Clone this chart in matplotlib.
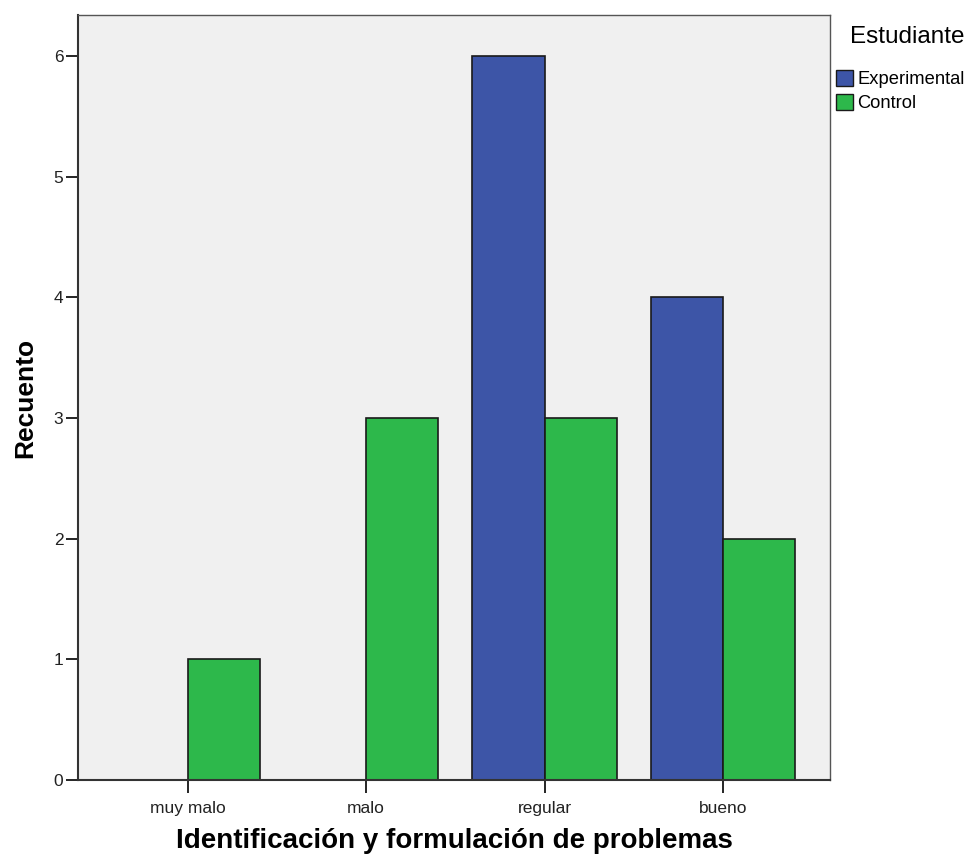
import matplotlib
matplotlib.use('Agg')
import matplotlib.pyplot as plt
import numpy as np
from matplotlib.patches import Patch

categorias = ['muy malo', 'malo', 'regular', 'bueno']
experimental = [0, 0, 6, 4]
control = [1, 3, 3, 2]
series = ['Experimental', 'Control']
colores = ['#3D55A7', '#2DB84B']

plt.rcParams['font.family'] = ['Liberation Sans', 'DejaVu Sans']

fig = plt.figure(figsize=(9.74, 8.64), dpi=100)
ax = fig.add_axes([0.0801, 0.0972, 0.772, 0.8854])
ax.set_facecolor('#F0F0F0')

x = np.arange(len(categorias))
w = 0.405
ax.bar(x - w / 2, experimental, w, color=colores[0], edgecolor='#1a1a1a', linewidth=1.2)
ax.bar(x + w / 2, control, w, color=colores[1], edgecolor='#1a1a1a', linewidth=1.2)

ax.set_xlim(-0.616, 3.6)
ax.set_ylim(0, 6.34)
ax.set_xticks(x)
ax.set_xticklabels(categorias, fontsize=12.5, color='#222222')
ax.set_yticks(range(7))
ax.tick_params(axis='y', labelsize=12.5, length=9, width=1.2, pad=1.5, labelcolor='#222222')
ax.tick_params(axis='x', length=9, width=1.2, pad=6)

for s in ['left', 'bottom']:
    ax.spines[s].set_linewidth(1.5)
    ax.spines[s].set_color('#333333')
for s in ['top', 'right']:
    ax.spines[s].set_linewidth(1)
    ax.spines[s].set_color('#555555')

ax.set_ylabel('Recuento', fontsize=19, fontweight='bold', labelpad=12)
ax.set_xlabel('Identificación y formulación de problemas', fontsize=20,
              fontweight='bold', labelpad=9)

handles = [Patch(facecolor=c, edgecolor='#1a1a1a', label=s) for c, s in zip(colores, series)]
leg = fig.legend(handles=handles, title='Estudiante', loc='upper left',
                 bbox_to_anchor=(0.856, 0.972), frameon=False, fontsize=13.2,
                 title_fontsize=17.5, handlelength=0.95, handleheight=0.95,
                 handletextpad=0.25, labelspacing=0.3, borderaxespad=0,
                 borderpad=0.1)
leg._legend_box.align = 'right'
leg._legend_box.sep = 16

fig.savefig('out.png', dpi=100)
